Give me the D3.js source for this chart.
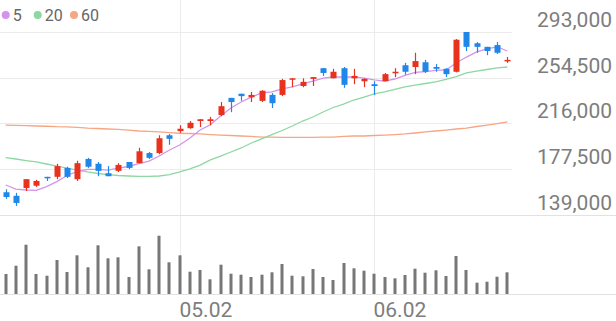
<!DOCTYPE html>
<html lang="en">
<head>
<meta charset="utf-8">
<title>Candles</title>
<script src="https://cdn.jsdelivr.net/npm/d3@7"></script>
<style>
  body { margin: 0; background: #fff; }
  svg { display: block; font-family: Roboto, "Noto Sans", sans-serif; }
  .grid line { stroke: #ececec; stroke-width: 1px; }
  .border { stroke: #e2e2e2; stroke-width: 1px; }
  .ylabel { font-size: 21px; fill: #7d7d7d; }
  .xlabel { font-size: 21px; fill: #7d7d7d; }
  .legend text { font-size: 16px; fill: #666; }
</style>
</head>
<body>
<script>
// trading days (2025)
var dates = ["04.08","04.09","04.10","04.11","04.14","04.15","04.16","04.17","04.18","04.21",
  "04.22","04.23","04.24","04.25","04.28","04.29","04.30","05.02","05.07","05.08",
  "05.09","05.12","05.13","05.14","05.15","05.16","05.19","05.20","05.21","05.22",
  "05.23","05.26","05.27","05.28","05.29","05.30","06.02","06.04","06.05","06.09",
  "06.10","06.11","06.12","06.13","06.16","06.17","06.18","06.19","06.20","06.23"];

var opens = [158000,155000,161500,163500,171000,171000,178500,169000,186000,182000,
  174000,176000,183500,182500,191000,191000,206000,209500,212000,218000,
  218000,223000,237500,241000,238000,235000,240000,240000,253500,247500,
  253500,262500,254000,262500,254000,251500,249000,251500,258500,265000,
  263500,267500,263500,262000,259500,293000,283500,280500,282000,268500];
var highs = [160500,157500,169000,168500,171000,182000,179500,184500,187000,183500,
  180000,182500,183500,195500,192000,206000,207000,214500,218000,219500,
  221500,234000,237500,241000,242500,244000,241500,253500,254000,254000,
  255000,262500,262000,263500,262000,254000,251500,258500,262500,267000,
  275500,269500,266000,262500,287000,293000,284500,280500,284500,272000];
var lows = [152500,146500,159000,162500,167500,169000,170000,167500,178500,171500,
  171500,175000,177500,182500,186000,190000,198000,208000,211500,213000,
  214500,222000,225500,235000,234000,234000,229000,239000,246500,246500,
  247500,256000,254000,246000,249000,246500,240000,251500,255000,257000,
  257500,258500,259500,255000,259000,277000,275500,273500,274500,267000];
var closes = [154000,149000,169000,167500,170000,180000,171000,182500,179500,176000,
  171500,181000,178500,192500,187000,203500,203000,211500,216500,219500,
  219500,230500,234000,239000,240000,243500,233000,252500,254000,251000,
  255000,258500,259500,248500,256000,253500,247500,257500,259500,259500,
  268500,259500,262000,257500,286500,280500,280500,277000,275500,269500];
var volumes = [2000,2830,4930,2000,1830,3400,2200,3870,2670,4870,
  3570,3670,1700,4770,2470,5830,3170,3870,2230,2400,
  1470,2930,2030,1930,1700,1930,2170,3000,1830,1770,
  2500,1700,1400,3100,2570,2330,2030,1700,1570,1900,
  2530,2130,2370,1800,3800,2400,1130,1230,1730,2170];

// moving averages
var ma5 = [164100,160700,159900,159500,162800,167000,172100,175500,177200,177200,
  176700,178400,179700,182200,184300,188500,193600,197800,203700,210400,
  215000,222200,229000,234000,238200,241600,242500,245000,246700,249200,
  251700,254200,255100,255100,255100,254200,252600,251700,253400,256400,
  258900,259700,260600,261000,266900,271900,276200,278700,280400,277000];
var ma20 = [187100,186000,184700,183500,181800,180100,178400,176700,175100,173800,
  172900,172100,171700,171300,171300,171700,172900,175100,177600,180900,
  185200,188500,191900,195300,199500,202900,206600,210000,213800,218000,
  221400,225600,229400,232300,235700,238200,240800,242500,244600,246700,
  248300,249600,250900,253000,255500,258500,260100,261400,262700,263500];
var ma60 = [214600,214400,214100,213800,213600,213200,213000,212700,212100,211700,
  211300,210900,210400,209600,209200,208800,208200,207700,207500,207100,
  206600,206200,205800,205400,205000,204500,204500,204300,204300,204300,
  204300,204500,204500,205000,205400,205400,205800,206200,206600,207100,
  207900,208800,209600,210400,211300,212100,213400,214600,215900,217200];

var yTicks = [139000, 177500, 216000, 254500, 293000];
var xTickLabels = ["05.02", "06.02"];
var maNames = ["5", "20", "60"];
var maColors = ["#d494ee", "#8ed7a2", "#f6a683"];

var w = 616, h = 321;
var upColor = "#e8321e", downColor = "#1f86ea";

var svg = d3.select("body").append("svg")
  .attr("width", w)
  .attr("height", h);

var x = d3.scaleBand()
  .domain(dates)
  .range([0.5, 512.5])
  .padding(0);
var bw = x.bandwidth();
function cx(d) { return Math.round(x(d) + bw / 2) + 0.5; }

var y = d3.scaleLinear()
  .domain([139000, 293000])
  .range([214.8, 32]);

var yv = d3.scaleLinear()
  .domain([0, d3.max(volumes)])
  .range([294, 235.7]);

// grid
var grid = svg.append("g").attr("class", "grid");
grid.selectAll("line.h")
  .data(yTicks.slice(1))
  .enter().append("line")
  .attr("x1", 0).attr("x2", 512)
  .attr("y1", function(d) { return Math.round(y(d)) + 0.5; })
  .attr("y2", function(d) { return Math.round(y(d)) + 0.5; });
grid.selectAll("line.v")
  .data(xTickLabels)
  .enter().append("line")
  .attr("x1", function(d) { return cx(d); })
  .attr("x2", function(d) { return cx(d); })
  .attr("y1", 0).attr("y2", 294);

svg.append("line").attr("class", "border")
  .attr("x1", 0).attr("x2", w)
  .attr("y1", Math.round(y(139000)) + 0.5).attr("y2", Math.round(y(139000)) + 0.5);
svg.append("line").attr("class", "border")
  .attr("x1", 0).attr("x2", w)
  .attr("y1", 294.5).attr("y2", 294.5);

// y labels
svg.selectAll("text.ylabel")
  .data(yTicks)
  .enter().append("text")
  .attr("class", "ylabel")
  .attr("x", 612)
  .attr("y", function(d) { return y(d) - 5; })
  .attr("text-anchor", "end")
  .text(d3.format(","));

// x labels
svg.selectAll("text.xlabel")
  .data(xTickLabels)
  .enter().append("text")
  .attr("class", "xlabel")
  .attr("x", function(d) { return cx(d) - 1; })
  .attr("y", 317)
  .text(function(d) { return d; });

// volume
svg.append("g").selectAll("rect")
  .data(dates)
  .enter().append("rect")
  .attr("x", function(d) { return cx(d) - 2; })
  .attr("width", 3)
  .attr("y", function(d, i) { return yv(volumes[i]); })
  .attr("height", function(d, i) { return 294 - yv(volumes[i]); })
  .style("fill", "#777");

// moving averages
[ma60, ma20, ma5].forEach(function(series, k) {
  var line = d3.line()
    .x(function(d, i) { return x(dates[i]) + bw / 2; })
    .y(function(d) { return y(d); });
  svg.append("path")
    .datum(series)
    .attr("d", line)
    .style("fill", "none")
    .style("stroke", maColors[2 - k])
    .style("stroke-width", 1.3);
});

// candles
var candle = svg.append("g").selectAll("g")
  .data(dates)
  .enter().append("g");

candle.append("line")
  .attr("x1", function(d) { return cx(d); })
  .attr("x2", function(d) { return cx(d); })
  .attr("y1", function(d, i) { return y(highs[i]); })
  .attr("y2", function(d, i) { return y(lows[i]); })
  .style("stroke", function(d, i) { return closes[i] >= opens[i] ? upColor : downColor; })
  .style("stroke-width", 1.2);

candle.append("rect")
  .attr("x", function(d) { return cx(d) - 3; })
  .attr("width", 6)
  .attr("y", function(d, i) { return y(Math.max(opens[i], closes[i])); })
  .attr("height", function(d, i) {
    return Math.max(1.5, Math.abs(y(opens[i]) - y(closes[i])));
  })
  .style("fill", function(d, i) { return closes[i] >= opens[i] ? upColor : downColor; });

// legend
var legend = svg.append("g").attr("class", "legend");
var legX = [5.7, 37.7, 74];
legend.selectAll("circle")
  .data(maNames)
  .enter().append("circle")
  .attr("cx", function(d, i) { return legX[i]; })
  .attr("cy", 15)
  .attr("r", 4)
  .style("fill", function(d, i) { return maColors[i]; });
legend.selectAll("text")
  .data(maNames)
  .enter().append("text")
  .attr("x", function(d, i) { return legX[i] + 7; })
  .attr("y", 21)
  .text(function(d) { return d; });
</script>
</body>
</html>
